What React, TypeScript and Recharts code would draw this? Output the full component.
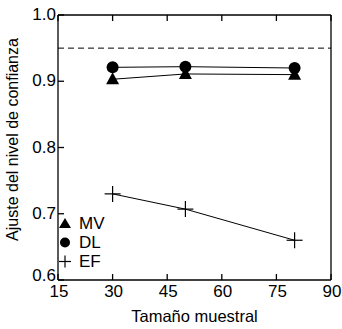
import React from 'react';
import { ComposedChart, Line, XAxis, YAxis, ReferenceLine } from 'recharts';

const sampleSizes = [30, 50, 80];
const mvValues = [0.903, 0.911, 0.910];
const dlValues = [0.921, 0.922, 0.920];
const efValues = [0.730, 0.707, 0.660];
const xTicks = [15, 30, 45, 60, 75, 90];
const yTicks = [0.6, 0.7, 0.8, 0.9, 1.0];
const nominalLevel = 0.95;
const seriesNames = ['MV', 'DL', 'EF'];

const data = sampleSizes.map((n, i) => ({ n, MV: mvValues[i], DL: dlValues[i], EF: efValues[i] }));

const FONT = '"Liberation Sans", Arial, sans-serif';
const TL = 6;

const BottomTick = (p: any) => (
  <g>
    <line x1={p.x} y1={p.y} x2={p.x} y2={p.y - TL} stroke="#000" strokeWidth={1.3} />
    <text x={p.x + 1} y={p.y + 17} textAnchor="middle" fontFamily={FONT} fontSize={17} fill="#000">{p.payload.value}</text>
  </g>
);
const TopTick = (p: any) => (
  <line x1={p.x} y1={p.y} x2={p.x} y2={p.y + TL} stroke="#000" strokeWidth={1.3} />
);
const LeftTick = (p: any) => (
  <g>
    <line x1={p.x} y1={p.y} x2={p.x + TL} y2={p.y} stroke="#000" strokeWidth={1.3} />
    <text x={p.x - 2} y={p.y + (p.index === 0 ? 1 : 5)} textAnchor="end" fontFamily={FONT} fontSize={17} fill="#000">{Number(p.payload.value).toFixed(1)}</text>
  </g>
);
const RightTick = (p: any) => (
  <line x1={p.x} y1={p.y} x2={p.x - TL} y2={p.y} stroke="#000" strokeWidth={1.3} />
);

const YLabel = (props: any) => {
  const vb = props.viewBox || {};
  const cx = (vb.x ?? 57) - 45;
  const cy = (vb.y ?? 14) + (vb.height ?? 266) / 2 - 8;
  return (
    <text x={cx} y={cy} transform={`rotate(-90, ${cx}, ${cy})`} textAnchor="middle" dominantBaseline="central"
      fontFamily={FONT} fontSize={16} fill="#000">Ajuste del nivel de confianza</text>
  );
};

const TriDot = (p: any) => {
  const { cx, cy } = p;
  if (cx == null || cy == null) return null;
  return <path d={`M${cx},${cy - 7} L${cx + 6.5},${cy + 5} L${cx - 6.5},${cy + 5} Z`} fill="#000" />;
};
const CircDot = (p: any) => {
  const { cx, cy } = p;
  if (cx == null || cy == null) return null;
  return <circle cx={cx} cy={cy} r={6} fill="#000" />;
};
const PlusDot = (p: any) => {
  const { cx, cy } = p;
  if (cx == null || cy == null) return null;
  return (
    <g stroke="#000" strokeWidth={1.2}>
      <line x1={cx - 8} y1={cy} x2={cx + 8} y2={cy} />
      <line x1={cx} y1={cy - 8} x2={cx} y2={cy + 8} />
    </g>
  );
};

const LegendBox = () => (
  <div style={{ position: 'absolute', left: 56, top: 214, fontFamily: FONT, fontSize: 17, lineHeight: '19px', color: '#000' }}>
    {seriesNames.map((name, i) => (
      <div key={name} style={{ display: 'flex', alignItems: 'center', height: 19 }}>
        <svg width={18} height={19} style={{ marginRight: 5 }}>
          {i === 0 && <path d="M9,4 L15,14 L3,14 Z" fill="#000" />}
          {i === 1 && <circle cx={9} cy={9.5} r={5} fill="#000" />}
          {i === 2 && (
            <g stroke="#000" strokeWidth={1.2}>
              <line x1={3} y1={9.5} x2={15} y2={9.5} />
              <line x1={9} y1={3.5} x2={9} y2={15.5} />
            </g>
          )}
        </svg>
        <span>{name}</span>
      </div>
    ))}
  </div>
);

export default function App() {
  return (
    <div style={{ position: 'absolute', left: 0, top: 0, width: 342, height: 329, background: '#fff' }}>
      <ComposedChart width={342} height={329} data={data} margin={{ top: 14, right: 10, bottom: 48, left: 57 }}>
        <XAxis xAxisId="b" dataKey="n" type="number" domain={[15, 90]} ticks={xTicks} height={1}
          tickSize={0} tickMargin={0} tick={<BottomTick />} axisLine={{ stroke: '#000', strokeWidth: 1.3 }}
          label={{ value: 'Tamaño muestral', position: 'bottom', offset: 29, style: { fontFamily: FONT, fontSize: 16.5, fill: '#000' } }} />
        <XAxis xAxisId="t" dataKey="n" type="number" orientation="top" domain={[15, 90]} ticks={xTicks} height={1}
          tickSize={0} tickMargin={0} tick={<TopTick />} axisLine={{ stroke: '#000', strokeWidth: 1.3 }} />
        <YAxis yAxisId="l" type="number" domain={[0.6, 1.0]} ticks={yTicks} width={1}
          tickSize={0} tickMargin={0} tick={<LeftTick />} axisLine={{ stroke: '#000', strokeWidth: 1.3 }}
          label={<YLabel />} />
        <YAxis yAxisId="r" type="number" orientation="right" domain={[0.6, 1.0]} ticks={yTicks} width={1}
          tickSize={0} tickMargin={0} tick={<RightTick />} axisLine={{ stroke: '#000', strokeWidth: 1.3 }} />
        <ReferenceLine xAxisId="b" yAxisId="l" y={nominalLevel} stroke="#000" strokeDasharray="6 4" strokeWidth={1} />
        <Line xAxisId="b" yAxisId="l" dataKey="MV" stroke="#000" strokeWidth={1} dot={<TriDot />} isAnimationActive={false} />
        <Line xAxisId="b" yAxisId="l" dataKey="DL" stroke="#000" strokeWidth={1} dot={<CircDot />} isAnimationActive={false} />
        <Line xAxisId="b" yAxisId="l" dataKey="EF" stroke="#000" strokeWidth={1} dot={<PlusDot />} isAnimationActive={false} />
      </ComposedChart>
      <LegendBox />
    </div>
  );
}
